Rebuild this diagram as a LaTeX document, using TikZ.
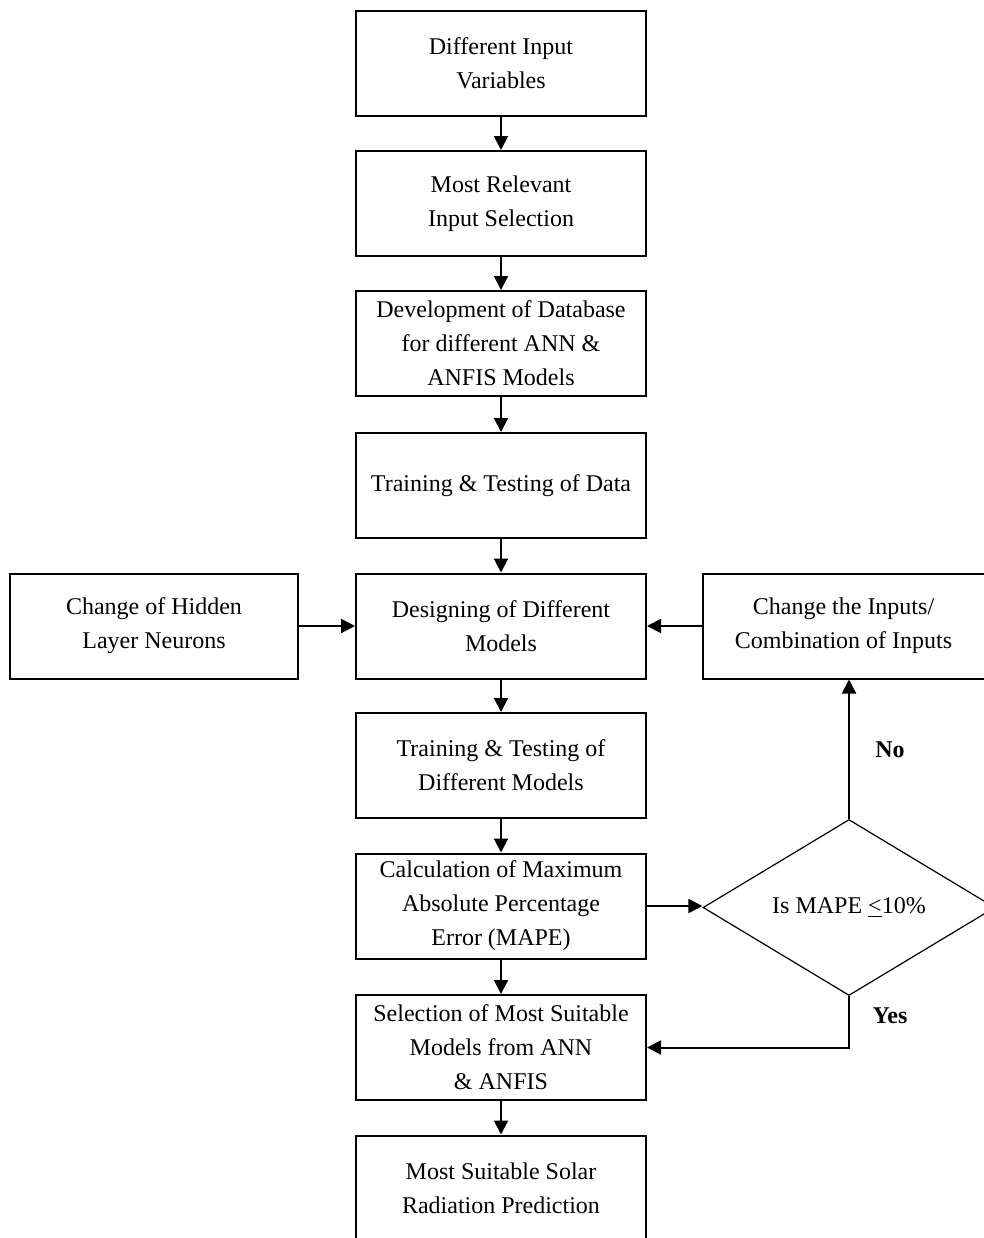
\documentclass[tikz,border=0pt]{standalone}
\usepackage{fontspec}
\setmainfont{Liberation Serif}
\usetikzlibrary{arrows.meta,shapes.geometric}
\begin{document}
\begin{tikzpicture}[x=0.5pt,y=-0.5pt,
  box/.style={draw,line width=1pt,minimum width=145pt,minimum height=52.5pt,inner sep=0pt,align=center,font=\fontsize{12}{17}\selectfont},
  arr/.style={line width=1pt,-{Triangle[length=7pt,width=7pt]}},
  lab/.style={font=\bfseries\fontsize{12}{14}\selectfont}]
\useasboundingbox (0,0) rectangle (984,1238);
\node[box] (b1) at (501,63.5) {Different Input\\Variables};
\node[box] (b2) at (501,203.5) {Most Relevant\\Input Selection};
\node[box] (b3) at (501,343.5) {Development of Database\\for different ANN \&\\ANFIS Models};
\node[box] (b4) at (501,485.5) {Training \& Testing of Data};
\node[box] (b5) at (501,626) {Designing of Different\\Models};
\node[box] (b6) at (501,765.5) {Training \& Testing of\\Different Models};
\node[box] (b7) at (501,906) {Calculation of Maximum\\Absolute Percentage\\Error (MAPE)};
\node[box] (b8) at (501,1047.5) {Selection of Most Suitable\\Models from ANN\\\& ANFIS};
\node[box] (b9) at (501,1188) {Most Suitable Solar\\Radiation Prediction};
\node[box,minimum width=144pt] (bl) at (154,626) {Change of Hidden\\Layer Neurons};
\node[box,minimum width=141pt] (br) at (843.5,626) {Change the Inputs/\\Combination of Inputs};
\node[draw,line width=0.6pt,diamond,aspect=1.66,minimum width=146pt,minimum height=88pt,inner sep=0pt,font=\fontsize{12}{14}\selectfont] (d) at (849,907.5) {Is MAPE \underline{<}10\%};
\draw[arr] (b1) -- (b2);
\draw[arr] (b2) -- (b3);
\draw[arr] (b3) -- (b4);
\draw[arr] (b4) -- (b5);
\draw[arr] (b5) -- (b6);
\draw[arr] (b6) -- (b7);
\draw[arr] (b7) -- (b8);
\draw[arr] (b8) -- (b9);
\draw[arr] (bl) -- (b5);
\draw[arr] (br) -- (b5);
\draw[arr] (b7.east) -- (b7.east -| d.west);
\draw[arr] (d.north) -- (d.north |- br.south);
\draw[arr] (d.south) |- (b8.east);
\node[lab] (no) at (890,750) {No};
\node[lab] (yes) at (890,1016) {Yes};
\end{tikzpicture}
\end{document}
